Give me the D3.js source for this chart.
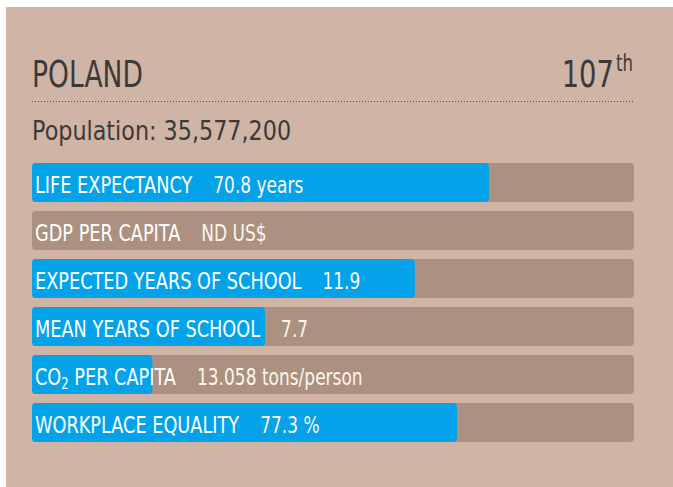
<!DOCTYPE html>
<html lang="en">
<head>
    <meta charset="UTF-8">
    <title>Poland</title>
    <script src="https://d3js.org/d3.v7.min.js" charset="utf-8"></script>
    <style>
        body {
            margin: 0;
            background: #fff;
        }
        svg text {
            font-family: "DejaVu Sans", sans-serif;
        }
    </style>
</head>
<body>
    <script>
        var width = 673;
        var height = 487;

        var country = "POLAND";
        var rank = 107;
        var population = "35,577,200";

        // indicator names, value text, and how full each bar is drawn (percent of track)
        var labels = ["LIFE EXPECTANCY", "GDP PER CAPITA", "EXPECTED YEARS OF SCHOOL",
            "MEAN YEARS OF SCHOOL", "CO2 PER CAPITA", "WORKPLACE EQUALITY"];
        var values = ["70.8 years", "ND US$", "11.9", "7.7", "13.058 tons/person", "77.3 %"];
        var fill = [75.9, 0, 63.6, 38.7, 20, 70.6];

        var svg = d3.select("body")
            .append("svg")
            .attr("width", width)
            .attr("height", height);

        svg.append("rect")
            .attr("x", 6)
            .attr("y", 7)
            .attr("width", width)
            .attr("height", height)
            .attr("fill", "#d0b4a6");

        var x = d3.scaleLinear()
            .domain([0, 100])
            .range([32, 634]);

        var y = d3.scaleBand()
            .domain(labels)
            .range([163, 442])
            .paddingInner(0.1875);

        // no narrow font installed, so squeeze the text sideways
        function narrow(px, py, sx) {
            return svg.append("text")
                .attr("transform", "translate(" + px + "," + py + ") scale(" + sx + ",1)");
        }

        // header
        narrow(32, 87, 0.70)
            .attr("font-size", 38)
            .attr("fill", "#3a3a3a")
            .text(country);

        var rk = narrow(633, 87, 0.72)
            .attr("text-anchor", "end")
            .attr("font-size", 38)
            .attr("fill", "#3a3a3a");
        rk.append("tspan").text(rank);
        rk.append("tspan")
            .attr("font-size", 23)
            .attr("dx", 3)
            .attr("dy", -16)
            .text("th");

        svg.append("line")
            .attr("x1", 32)
            .attr("x2", 634)
            .attr("y1", 101.5)
            .attr("y2", 101.5)
            .attr("stroke", "#4a4a4a")
            .attr("stroke-dasharray", "1,2");

        narrow(32, 140, 0.857)
            .attr("font-size", 26)
            .attr("fill", "#3a3a3a")
            .text("Population: " + population);

        // bars
        var rows = svg.selectAll("g.row")
            .data(labels)
            .enter()
            .append("g")
            .attr("class", "row");

        rows.append("rect")
            .attr("x", x(0))
            .attr("y", function(d) { return y(d); })
            .attr("width", x(100) - x(0))
            .attr("height", y.bandwidth())
            .attr("rx", 4)
            .attr("fill", "#ac9080");

        rows.filter(function(d, i) { return fill[i] > 0; })
            .append("rect")
            .attr("x", x(0))
            .attr("y", function(d) { return y(d); })
            .attr("width", function(d) { return x(fill[labels.indexOf(d)]) - x(0); })
            .attr("height", y.bandwidth())
            .attr("rx", 4)
            .attr("fill", "#04a2e9");

        var labelSx = 0.77, valueSx = 0.74;
        rows.each(function(d, i) {
            var g = d3.select(this);
            var by = y(d) + y.bandwidth() / 2 + 10;
            var t = g.append("text")
                .attr("transform", "translate(35," + by + ") scale(" + labelSx + ",1)")
                .attr("font-size", 23)
                .attr("fill", "#ffffff");
            if (d.indexOf("CO2") === 0) {
                t.append("tspan").text("CO");
                t.append("tspan").attr("font-size", 15).attr("dy", 4).text("2");
                t.append("tspan").attr("dy", -4).text(" PER CAPITA");
            } else {
                t.text(d);
            }
            var w = t.node().getComputedTextLength() * labelSx;
            g.append("text")
                .attr("transform", "translate(" + (35 + w + 21) + "," + by + ") scale(" + valueSx + ",1)")
                .attr("font-size", 23)
                .attr("fill", "#fbf6ee")
                .text(values[i]);
        });
    </script>
</body>
</html>
